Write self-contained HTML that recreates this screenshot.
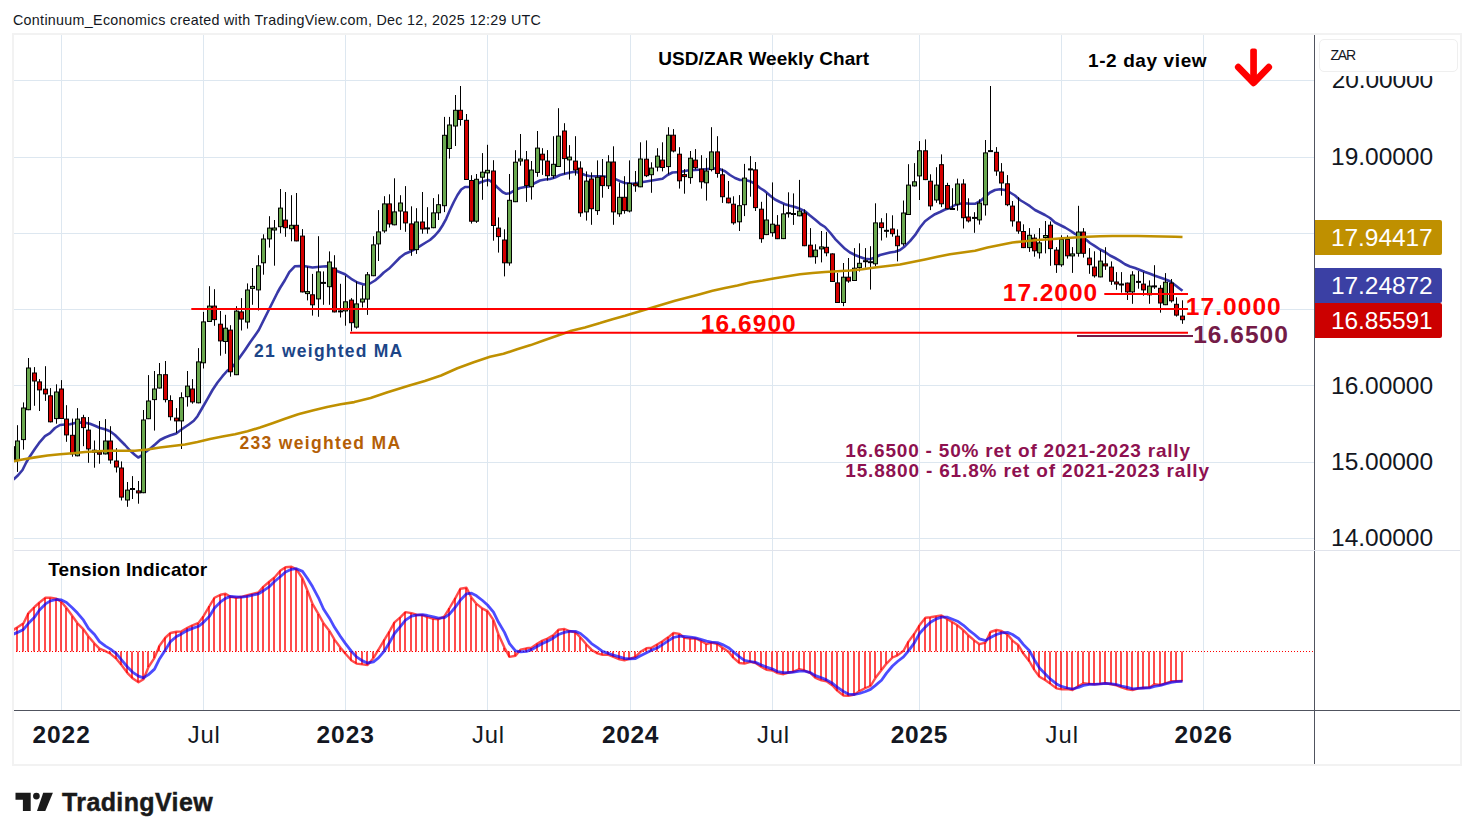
<!DOCTYPE html>
<html><head><meta charset="utf-8"><title>USD/ZAR Weekly Chart</title>
<style>
html,body{margin:0;padding:0;background:#fff;}
body{width:1474px;height:840px;position:relative;overflow:hidden;font-family:"Liberation Sans",sans-serif;color:#131722;}
svg{position:absolute;left:0;top:0;}
.t{position:absolute;white-space:nowrap;line-height:1;transform-origin:0 0;}
.b{font-weight:bold;}
.ax{font-size:24px;color:#131722;left:1332px;}
.axw{color:#fff;}
.tm{font-size:24px;color:#131722;}
</style></head><body>
<svg width="1474" height="840" viewBox="0 0 1474 840">
<rect x="13" y="34" width="1448" height="731" fill="#fff" stroke="#f2f2f2" stroke-width="2"/>
<line x1="61.5" y1="35" x2="61.5" y2="710" stroke="#dde7f0" stroke-width="1"/>
<line x1="203.5" y1="35" x2="203.5" y2="710" stroke="#dde7f0" stroke-width="1"/>
<line x1="345.5" y1="35" x2="345.5" y2="710" stroke="#dde7f0" stroke-width="1"/>
<line x1="487.5" y1="35" x2="487.5" y2="710" stroke="#dde7f0" stroke-width="1"/>
<line x1="630.5" y1="35" x2="630.5" y2="710" stroke="#dde7f0" stroke-width="1"/>
<line x1="772.5" y1="35" x2="772.5" y2="710" stroke="#dde7f0" stroke-width="1"/>
<line x1="919.5" y1="35" x2="919.5" y2="710" stroke="#dde7f0" stroke-width="1"/>
<line x1="1061.5" y1="35" x2="1061.5" y2="710" stroke="#dde7f0" stroke-width="1"/>
<line x1="1203.5" y1="35" x2="1203.5" y2="710" stroke="#dde7f0" stroke-width="1"/>
<line x1="14" y1="538.5" x2="1314" y2="538.5" stroke="#dde7f0" stroke-width="1"/>
<line x1="14" y1="462.5" x2="1314" y2="462.5" stroke="#dde7f0" stroke-width="1"/>
<line x1="14" y1="385.5" x2="1314" y2="385.5" stroke="#dde7f0" stroke-width="1"/>
<line x1="14" y1="309.5" x2="1314" y2="309.5" stroke="#dde7f0" stroke-width="1"/>
<line x1="14" y1="233.5" x2="1314" y2="233.5" stroke="#dde7f0" stroke-width="1"/>
<line x1="14" y1="157.5" x2="1314" y2="157.5" stroke="#dde7f0" stroke-width="1"/>
<line x1="14" y1="80.5" x2="1314" y2="80.5" stroke="#dde7f0" stroke-width="1"/>
<defs><clipPath id="cp"><rect x="14" y="35" width="1300" height="675"/></clipPath></defs>
<g clip-path="url(#cp)">
<path d="M12.5,480.0 L13.8,479.2 L17.5,475.8 L22.5,470.0 L26.2,462.5 L30.0,456.2 L35.0,448.8 L40.0,441.8 L45.0,436.2 L50.0,433.2 L55.0,428.0 L60.0,425.0 L65.0,424.5 L70.0,424.2 L75.0,423.0 L80.0,422.5 L85.0,422.8 L90.0,423.8 L95.0,425.8 L100.0,428.0 L105.0,429.2 L110.0,431.2 L115.0,435.0 L120.0,440.0 L125.0,445.0 L130.0,450.5 L135.0,455.0 L138.2,457.5 L141.2,455.8 L145.0,452.5 L150.0,448.8 L155.0,444.5 L160.0,440.0 L165.0,437.5 L170.0,435.5 L176.2,433.5 L182.5,428.8 L188.8,424.5 L193.8,420.8 L197.5,416.2 L202.5,407.5 L207.5,398.8 L212.5,390.0 L217.5,382.5 L222.5,376.2 L227.5,370.5 L231.2,368.0 L235.0,363.8 L240.0,357.0 L245.0,350.0 L250.0,342.5 L255.0,335.5 L258.8,330.0 L262.5,322.5 L267.5,312.5 L272.5,302.5 L277.5,292.5 L280.0,288.0 L285.0,280.0 L289.3,272.1 L295.0,266.2 L300.0,266.0 L305.0,266.2 L312.5,267.5 L320.0,266.8 L326.2,266.2 L331.2,268.0 L337.5,271.2 L345.0,274.2 L351.2,278.8 L357.5,282.5 L363.8,284.5 L370.0,283.5 L375.0,280.5 L380.0,276.2 L383.8,272.5 L388.8,268.8 L393.8,263.8 L400.0,257.5 L405.0,253.8 L410.0,251.8 L415.0,249.2 L420.0,246.2 L425.0,243.0 L430.0,240.0 L435.0,235.5 L438.8,231.2 L442.5,225.5 L446.2,218.8 L450.0,210.0 L453.8,202.0 L457.5,195.0 L461.2,189.5 L465.0,187.0 L470.0,187.0 L475.0,185.0 L480.0,182.5 L485.0,180.8 L488.8,180.0 L492.5,182.5 L497.5,187.5 L502.5,192.0 L506.2,193.8 L510.0,193.2 L515.0,190.0 L520.0,188.0 L525.0,187.0 L530.0,186.2 L535.0,183.0 L540.0,180.5 L545.0,179.5 L550.0,179.0 L555.0,177.5 L560.0,175.0 L565.0,173.8 L570.0,172.5 L575.0,171.8 L580.0,173.0 L585.0,175.0 L590.0,176.2 L595.0,176.2 L600.0,176.2 L607.5,176.8 L615.0,178.8 L620.0,181.2 L625.0,183.0 L632.5,183.8 L640.0,182.5 L647.5,181.2 L655.0,180.0 L662.5,178.8 L667.5,175.0 L672.5,172.5 L680.0,172.0 L687.5,170.5 L695.0,170.0 L702.5,169.5 L710.0,168.8 L717.5,168.2 L725.0,171.2 L730.0,175.0 L735.0,178.0 L740.0,180.0 L745.0,180.0 L750.0,181.2 L755.0,183.8 L760.0,188.0 L765.0,191.2 L770.0,195.5 L775.0,199.5 L780.0,202.0 L785.0,204.2 L790.0,205.8 L795.0,207.0 L800.0,208.8 L805.0,211.2 L810.0,215.5 L815.0,219.5 L820.0,223.8 L825.0,227.0 L830.0,232.5 L835.0,238.8 L840.0,243.8 L845.0,248.8 L850.0,252.5 L855.0,255.0 L860.0,257.0 L865.0,258.8 L870.0,259.2 L875.0,257.5 L880.0,255.0 L885.0,253.8 L890.0,252.5 L895.0,251.8 L900.0,250.0 L905.0,246.2 L910.0,241.2 L915.0,235.2 L920.0,227.5 L925.0,221.2 L930.0,217.5 L935.0,214.2 L940.0,212.0 L945.0,209.5 L950.0,208.0 L955.0,205.0 L960.0,203.8 L965.0,203.2 L970.0,203.8 L975.0,203.8 L980.0,201.2 L985.0,197.0 L990.0,192.5 L995.0,190.0 L1000.0,189.2 L1005.0,190.0 L1010.0,192.5 L1015.0,195.5 L1020.0,200.0 L1025.0,203.0 L1030.0,206.2 L1035.0,210.0 L1040.0,212.5 L1045.0,215.0 L1050.0,218.0 L1055.0,222.5 L1060.0,225.0 L1065.0,227.5 L1070.0,230.5 L1075.0,233.8 L1080.0,236.2 L1085.0,238.8 L1090.0,243.0 L1095.0,246.2 L1100.0,249.5 L1105.0,252.0 L1110.0,255.5 L1115.0,258.0 L1120.0,260.8 L1125.0,264.2 L1130.0,266.5 L1135.0,268.0 L1140.0,270.0 L1145.0,272.0 L1150.0,273.8 L1155.0,275.8 L1160.0,277.5 L1165.0,279.2 L1170.0,281.2 L1175.0,285.0 L1178.8,288.0 L1182.5,290.8" fill="none" stroke="#3838a8" stroke-width="2.6" stroke-linejoin="round" stroke-linecap="butt"/>
<g><line x1="12.5" y1="446.2" x2="12.5" y2="460.5" stroke="#000" stroke-width="1"/><rect x="10.5" y="446.7" width="4" height="13.3" fill="#d40000" stroke="#000" stroke-width="1"/><line x1="17.5" y1="425.2" x2="17.5" y2="471.9" stroke="#000" stroke-width="1"/><rect x="15.5" y="441.0" width="4" height="19.0" fill="#6aa84f" stroke="#000" stroke-width="1"/><line x1="23.5" y1="402.4" x2="23.5" y2="449.6" stroke="#000" stroke-width="1"/><rect x="21.5" y="408.0" width="4" height="31.6" fill="#6aa84f" stroke="#000" stroke-width="1"/><line x1="28.5" y1="358.0" x2="28.5" y2="410.2" stroke="#000" stroke-width="1"/><rect x="26.5" y="368.0" width="4" height="41.7" fill="#6aa84f" stroke="#000" stroke-width="1"/><line x1="34.5" y1="367.1" x2="34.5" y2="405.8" stroke="#000" stroke-width="1"/><rect x="32.5" y="373.0" width="4" height="8.0" fill="#d40000" stroke="#000" stroke-width="1"/><line x1="39.5" y1="379.1" x2="39.5" y2="411.0" stroke="#000" stroke-width="1"/><rect x="37.5" y="381.9" width="4" height="8.0" fill="#d40000" stroke="#000" stroke-width="1"/><line x1="45.5" y1="366.2" x2="45.5" y2="400.9" stroke="#000" stroke-width="1"/><rect x="43.5" y="389.2" width="4" height="4.7" fill="#d40000" stroke="#000" stroke-width="1"/><line x1="50.5" y1="388.1" x2="50.5" y2="422.4" stroke="#000" stroke-width="1"/><rect x="48.5" y="395.8" width="4" height="26.0" fill="#d40000" stroke="#000" stroke-width="1"/><line x1="56.5" y1="384.3" x2="56.5" y2="423.7" stroke="#000" stroke-width="1"/><rect x="54.5" y="392.0" width="4" height="26.6" fill="#6aa84f" stroke="#000" stroke-width="1"/><line x1="61.5" y1="380.1" x2="61.5" y2="419.0" stroke="#000" stroke-width="1"/><rect x="59.5" y="389.0" width="4" height="29.5" fill="#d40000" stroke="#000" stroke-width="1"/><line x1="66.5" y1="405.2" x2="66.5" y2="441.8" stroke="#000" stroke-width="1"/><rect x="64.5" y="419.1" width="4" height="15.8" fill="#d40000" stroke="#000" stroke-width="1"/><line x1="72.5" y1="418.6" x2="72.5" y2="456.7" stroke="#000" stroke-width="1"/><rect x="70.5" y="435.3" width="4" height="18.6" fill="#d40000" stroke="#000" stroke-width="1"/><line x1="77.5" y1="408.1" x2="77.5" y2="456.3" stroke="#000" stroke-width="1"/><rect x="75.5" y="419.1" width="4" height="36.7" fill="#6aa84f" stroke="#000" stroke-width="1"/><line x1="83.5" y1="414.8" x2="83.5" y2="446.2" stroke="#000" stroke-width="1"/><rect x="81.5" y="417.7" width="4" height="9.9" fill="#d40000" stroke="#000" stroke-width="1"/><line x1="88.5" y1="417.0" x2="88.5" y2="462.8" stroke="#000" stroke-width="1"/><rect x="86.5" y="430.1" width="4" height="18.8" fill="#d40000" stroke="#000" stroke-width="1"/><line x1="94.5" y1="440.5" x2="94.5" y2="467.7" stroke="#000" stroke-width="1"/><rect x="92.5" y="450.2" width="4" height="2.0" fill="#6aa84f" stroke="#000" stroke-width="1"/><line x1="99.5" y1="421.0" x2="99.5" y2="463.7" stroke="#000" stroke-width="1"/><rect x="97.5" y="452.2" width="4" height="2.0" fill="#d40000" stroke="#000" stroke-width="1"/><line x1="105.5" y1="419.1" x2="105.5" y2="454.4" stroke="#000" stroke-width="1"/><rect x="103.5" y="441.0" width="4" height="12.9" fill="#6aa84f" stroke="#000" stroke-width="1"/><line x1="110.5" y1="426.2" x2="110.5" y2="463.7" stroke="#000" stroke-width="1"/><rect x="108.5" y="441.0" width="4" height="19.0" fill="#d40000" stroke="#000" stroke-width="1"/><line x1="116.5" y1="448.1" x2="116.5" y2="472.5" stroke="#000" stroke-width="1"/><rect x="114.5" y="461.0" width="4" height="6.0" fill="#d40000" stroke="#000" stroke-width="1"/><line x1="121.5" y1="461.4" x2="121.5" y2="500.5" stroke="#000" stroke-width="1"/><rect x="119.5" y="468.0" width="4" height="29.1" fill="#d40000" stroke="#000" stroke-width="1"/><line x1="127.5" y1="482.0" x2="127.5" y2="506.8" stroke="#000" stroke-width="1"/><rect x="125.5" y="490.1" width="4" height="9.9" fill="#6aa84f" stroke="#000" stroke-width="1"/><line x1="132.5" y1="476.1" x2="132.5" y2="499.0" stroke="#000" stroke-width="1"/><rect x="130.0" y="488.0" width="5" height="2" fill="#000"/><line x1="138.5" y1="481.0" x2="138.5" y2="503.7" stroke="#000" stroke-width="1"/><rect x="136.5" y="490.9" width="4" height="2.0" fill="#d40000" stroke="#000" stroke-width="1"/><line x1="143.5" y1="410.0" x2="143.5" y2="493.2" stroke="#000" stroke-width="1"/><rect x="141.5" y="420.0" width="4" height="72.7" fill="#6aa84f" stroke="#000" stroke-width="1"/><line x1="148.5" y1="375.1" x2="148.5" y2="419.1" stroke="#000" stroke-width="1"/><rect x="146.5" y="401.0" width="4" height="17.7" fill="#6aa84f" stroke="#000" stroke-width="1"/><line x1="154.5" y1="371.0" x2="154.5" y2="430.6" stroke="#000" stroke-width="1"/><rect x="152.5" y="389.0" width="4" height="10.6" fill="#6aa84f" stroke="#000" stroke-width="1"/><line x1="159.5" y1="363.0" x2="159.5" y2="388.5" stroke="#000" stroke-width="1"/><rect x="157.5" y="374.7" width="4" height="13.3" fill="#6aa84f" stroke="#000" stroke-width="1"/><line x1="165.5" y1="361.0" x2="165.5" y2="402.4" stroke="#000" stroke-width="1"/><rect x="163.5" y="374.7" width="4" height="24.9" fill="#d40000" stroke="#000" stroke-width="1"/><line x1="170.5" y1="395.3" x2="170.5" y2="420.5" stroke="#000" stroke-width="1"/><rect x="168.5" y="400.6" width="4" height="16.1" fill="#d40000" stroke="#000" stroke-width="1"/><line x1="176.5" y1="408.1" x2="176.5" y2="432.9" stroke="#000" stroke-width="1"/><rect x="174.5" y="418.1" width="4" height="2.8" fill="#d40000" stroke="#000" stroke-width="1"/><line x1="181.5" y1="392.3" x2="181.5" y2="449.0" stroke="#000" stroke-width="1"/><rect x="179.5" y="397.7" width="4" height="23.2" fill="#6aa84f" stroke="#000" stroke-width="1"/><line x1="187.5" y1="371.0" x2="187.5" y2="406.6" stroke="#000" stroke-width="1"/><rect x="185.5" y="386.1" width="4" height="10.6" fill="#6aa84f" stroke="#000" stroke-width="1"/><line x1="192.5" y1="379.1" x2="192.5" y2="403.7" stroke="#000" stroke-width="1"/><rect x="190.5" y="389.0" width="4" height="12.9" fill="#d40000" stroke="#000" stroke-width="1"/><line x1="198.5" y1="348.1" x2="198.5" y2="403.3" stroke="#000" stroke-width="1"/><rect x="196.5" y="361.9" width="4" height="40.9" fill="#6aa84f" stroke="#000" stroke-width="1"/><line x1="203.5" y1="311.9" x2="203.5" y2="368.5" stroke="#000" stroke-width="1"/><rect x="201.5" y="321.9" width="4" height="40.9" fill="#6aa84f" stroke="#000" stroke-width="1"/><line x1="209.5" y1="286.2" x2="209.5" y2="322.0" stroke="#000" stroke-width="1"/><rect x="207.5" y="306.1" width="4" height="15.4" fill="#6aa84f" stroke="#000" stroke-width="1"/><line x1="214.5" y1="289.2" x2="214.5" y2="325.8" stroke="#000" stroke-width="1"/><rect x="212.5" y="306.1" width="4" height="13.5" fill="#d40000" stroke="#000" stroke-width="1"/><line x1="220.5" y1="311.0" x2="220.5" y2="355.7" stroke="#000" stroke-width="1"/><rect x="218.5" y="324.2" width="4" height="16.7" fill="#d40000" stroke="#000" stroke-width="1"/><line x1="225.5" y1="314.8" x2="225.5" y2="353.8" stroke="#000" stroke-width="1"/><rect x="223.5" y="328.2" width="4" height="13.3" fill="#6aa84f" stroke="#000" stroke-width="1"/><line x1="230.5" y1="325.2" x2="230.5" y2="376.7" stroke="#000" stroke-width="1"/><rect x="228.5" y="330.1" width="4" height="41.7" fill="#d40000" stroke="#000" stroke-width="1"/><line x1="236.5" y1="306.2" x2="236.5" y2="375.1" stroke="#000" stroke-width="1"/><rect x="234.5" y="311.1" width="4" height="63.6" fill="#6aa84f" stroke="#000" stroke-width="1"/><line x1="241.5" y1="298.1" x2="241.5" y2="330.5" stroke="#000" stroke-width="1"/><rect x="239.5" y="311.9" width="4" height="7.2" fill="#d40000" stroke="#000" stroke-width="1"/><line x1="247.5" y1="283.4" x2="247.5" y2="328.6" stroke="#000" stroke-width="1"/><rect x="245.5" y="290.0" width="4" height="32.0" fill="#6aa84f" stroke="#000" stroke-width="1"/><line x1="252.5" y1="268.0" x2="252.5" y2="304.8" stroke="#000" stroke-width="1"/><rect x="250.5" y="286.4" width="4" height="2.0" fill="#6aa84f" stroke="#000" stroke-width="1"/><line x1="258.5" y1="255.2" x2="258.5" y2="310.5" stroke="#000" stroke-width="1"/><rect x="256.5" y="265.8" width="4" height="24.1" fill="#6aa84f" stroke="#000" stroke-width="1"/><line x1="263.5" y1="234.3" x2="263.5" y2="274.7" stroke="#000" stroke-width="1"/><rect x="261.5" y="239.0" width="4" height="23.8" fill="#6aa84f" stroke="#000" stroke-width="1"/><line x1="269.5" y1="216.2" x2="269.5" y2="247.6" stroke="#000" stroke-width="1"/><rect x="267.5" y="228.1" width="4" height="10.8" fill="#6aa84f" stroke="#000" stroke-width="1"/><line x1="274.5" y1="220.0" x2="274.5" y2="265.7" stroke="#000" stroke-width="1"/><rect x="272.5" y="228.0" width="4" height="2.0" fill="#6aa84f" stroke="#000" stroke-width="1"/><line x1="280.5" y1="189.0" x2="280.5" y2="233.3" stroke="#000" stroke-width="1"/><rect x="278.5" y="208.1" width="4" height="18.6" fill="#6aa84f" stroke="#000" stroke-width="1"/><line x1="285.5" y1="192.0" x2="285.5" y2="236.8" stroke="#000" stroke-width="1"/><rect x="283.5" y="220.1" width="4" height="7.6" fill="#d40000" stroke="#000" stroke-width="1"/><line x1="291.5" y1="195.2" x2="291.5" y2="241.3" stroke="#000" stroke-width="1"/><rect x="289.5" y="225.3" width="4" height="3.4" fill="#6aa84f" stroke="#000" stroke-width="1"/><line x1="296.5" y1="193.0" x2="296.5" y2="241.3" stroke="#000" stroke-width="1"/><rect x="294.5" y="225.3" width="4" height="15.6" fill="#d40000" stroke="#000" stroke-width="1"/><line x1="302.5" y1="229.1" x2="302.5" y2="292.4" stroke="#000" stroke-width="1"/><rect x="300.5" y="236.1" width="4" height="55.8" fill="#d40000" stroke="#000" stroke-width="1"/><line x1="307.5" y1="266.7" x2="307.5" y2="300.4" stroke="#000" stroke-width="1"/><rect x="305.5" y="291.6" width="4" height="2.0" fill="#6aa84f" stroke="#000" stroke-width="1"/><line x1="312.5" y1="273.9" x2="312.5" y2="315.6" stroke="#000" stroke-width="1"/><rect x="310.5" y="294.8" width="4" height="10.0" fill="#d40000" stroke="#000" stroke-width="1"/><line x1="318.5" y1="236.2" x2="318.5" y2="316.8" stroke="#000" stroke-width="1"/><rect x="316.5" y="271.9" width="4" height="27.0" fill="#6aa84f" stroke="#000" stroke-width="1"/><line x1="323.5" y1="271.4" x2="323.5" y2="304.8" stroke="#000" stroke-width="1"/><rect x="321.0" y="281.9" width="5" height="2" fill="#000"/><line x1="329.5" y1="251.4" x2="329.5" y2="304.8" stroke="#000" stroke-width="1"/><rect x="327.5" y="262.0" width="4" height="24.7" fill="#6aa84f" stroke="#000" stroke-width="1"/><line x1="334.5" y1="255.2" x2="334.5" y2="312.4" stroke="#000" stroke-width="1"/><rect x="332.5" y="268.1" width="4" height="43.8" fill="#d40000" stroke="#000" stroke-width="1"/><line x1="340.5" y1="283.8" x2="340.5" y2="317.5" stroke="#000" stroke-width="1"/><rect x="338.0" y="310.4" width="5" height="2" fill="#000"/><line x1="345.5" y1="275.8" x2="345.5" y2="325.7" stroke="#000" stroke-width="1"/><rect x="343.5" y="301.8" width="4" height="9.1" fill="#6aa84f" stroke="#000" stroke-width="1"/><line x1="351.5" y1="298.1" x2="351.5" y2="331.4" stroke="#000" stroke-width="1"/><rect x="349.5" y="300.1" width="4" height="22.6" fill="#d40000" stroke="#000" stroke-width="1"/><line x1="356.5" y1="281.5" x2="356.5" y2="328.6" stroke="#000" stroke-width="1"/><rect x="354.5" y="303.9" width="4" height="23.2" fill="#6aa84f" stroke="#000" stroke-width="1"/><line x1="362.5" y1="285.3" x2="362.5" y2="307.6" stroke="#000" stroke-width="1"/><rect x="360.5" y="299.0" width="4" height="3.0" fill="#6aa84f" stroke="#000" stroke-width="1"/><line x1="367.5" y1="272.0" x2="367.5" y2="314.9" stroke="#000" stroke-width="1"/><rect x="365.5" y="274.8" width="4" height="24.3" fill="#6aa84f" stroke="#000" stroke-width="1"/><line x1="373.5" y1="236.2" x2="373.5" y2="276.2" stroke="#000" stroke-width="1"/><rect x="371.5" y="244.9" width="4" height="30.8" fill="#6aa84f" stroke="#000" stroke-width="1"/><line x1="378.5" y1="210.1" x2="378.5" y2="261.0" stroke="#000" stroke-width="1"/><rect x="376.5" y="231.9" width="4" height="12.0" fill="#6aa84f" stroke="#000" stroke-width="1"/><line x1="384.5" y1="196.2" x2="384.5" y2="232.8" stroke="#000" stroke-width="1"/><rect x="382.5" y="203.9" width="4" height="27.0" fill="#6aa84f" stroke="#000" stroke-width="1"/><line x1="389.5" y1="194.3" x2="389.5" y2="227.6" stroke="#000" stroke-width="1"/><rect x="387.5" y="203.9" width="4" height="20.0" fill="#d40000" stroke="#000" stroke-width="1"/><line x1="394.5" y1="178.3" x2="394.5" y2="225.3" stroke="#000" stroke-width="1"/><rect x="392.5" y="211.9" width="4" height="12.9" fill="#6aa84f" stroke="#000" stroke-width="1"/><line x1="400.5" y1="195.2" x2="400.5" y2="229.9" stroke="#000" stroke-width="1"/><rect x="398.5" y="203.0" width="4" height="8.0" fill="#6aa84f" stroke="#000" stroke-width="1"/><line x1="405.5" y1="186.1" x2="405.5" y2="231.8" stroke="#000" stroke-width="1"/><rect x="403.5" y="211.9" width="4" height="11.0" fill="#d40000" stroke="#000" stroke-width="1"/><line x1="411.5" y1="206.3" x2="411.5" y2="255.8" stroke="#000" stroke-width="1"/><rect x="409.5" y="223.9" width="4" height="26.0" fill="#d40000" stroke="#000" stroke-width="1"/><line x1="416.5" y1="208.2" x2="416.5" y2="253.9" stroke="#000" stroke-width="1"/><rect x="414.5" y="222.0" width="4" height="27.6" fill="#6aa84f" stroke="#000" stroke-width="1"/><line x1="422.5" y1="192.0" x2="422.5" y2="233.7" stroke="#000" stroke-width="1"/><rect x="420.5" y="222.0" width="4" height="7.0" fill="#d40000" stroke="#000" stroke-width="1"/><line x1="427.5" y1="207.2" x2="427.5" y2="233.7" stroke="#000" stroke-width="1"/><rect x="425.0" y="227.4" width="5" height="2" fill="#000"/><line x1="433.5" y1="198.1" x2="433.5" y2="228.2" stroke="#000" stroke-width="1"/><rect x="431.5" y="212.9" width="4" height="14.8" fill="#6aa84f" stroke="#000" stroke-width="1"/><line x1="438.5" y1="194.3" x2="438.5" y2="220.0" stroke="#000" stroke-width="1"/><rect x="436.5" y="204.7" width="4" height="8.1" fill="#6aa84f" stroke="#000" stroke-width="1"/><line x1="444.5" y1="116.9" x2="444.5" y2="212.1" stroke="#000" stroke-width="1"/><rect x="442.5" y="135.3" width="4" height="70.4" fill="#6aa84f" stroke="#000" stroke-width="1"/><line x1="449.5" y1="116.9" x2="449.5" y2="158.6" stroke="#000" stroke-width="1"/><rect x="447.5" y="125.0" width="4" height="23.5" fill="#6aa84f" stroke="#000" stroke-width="1"/><line x1="455.5" y1="95.0" x2="455.5" y2="146.0" stroke="#000" stroke-width="1"/><rect x="453.5" y="110.3" width="4" height="15.7" fill="#6aa84f" stroke="#000" stroke-width="1"/><line x1="460.5" y1="86.0" x2="460.5" y2="125.7" stroke="#000" stroke-width="1"/><rect x="458.5" y="110.3" width="4" height="9.2" fill="#d40000" stroke="#000" stroke-width="1"/><line x1="466.5" y1="114.0" x2="466.5" y2="180.0" stroke="#000" stroke-width="1"/><rect x="464.5" y="120.3" width="4" height="59.2" fill="#d40000" stroke="#000" stroke-width="1"/><line x1="471.5" y1="175.2" x2="471.5" y2="223.6" stroke="#000" stroke-width="1"/><rect x="469.5" y="180.5" width="4" height="40.7" fill="#d40000" stroke="#000" stroke-width="1"/><line x1="476.5" y1="174.0" x2="476.5" y2="222.9" stroke="#000" stroke-width="1"/><rect x="474.5" y="179.3" width="4" height="41.9" fill="#6aa84f" stroke="#000" stroke-width="1"/><line x1="482.5" y1="153.1" x2="482.5" y2="199.8" stroke="#000" stroke-width="1"/><rect x="480.5" y="172.2" width="4" height="5.0" fill="#6aa84f" stroke="#000" stroke-width="1"/><line x1="487.5" y1="144.8" x2="487.5" y2="186.4" stroke="#000" stroke-width="1"/><rect x="485.5" y="170.3" width="4" height="2.6" fill="#6aa84f" stroke="#000" stroke-width="1"/><line x1="493.5" y1="160.2" x2="493.5" y2="240.7" stroke="#000" stroke-width="1"/><rect x="491.5" y="171.0" width="4" height="54.5" fill="#d40000" stroke="#000" stroke-width="1"/><line x1="498.5" y1="217.4" x2="498.5" y2="252.6" stroke="#000" stroke-width="1"/><rect x="496.5" y="228.1" width="4" height="8.5" fill="#d40000" stroke="#000" stroke-width="1"/><line x1="504.5" y1="229.3" x2="504.5" y2="276.4" stroke="#000" stroke-width="1"/><rect x="502.5" y="240.0" width="4" height="22.8" fill="#d40000" stroke="#000" stroke-width="1"/><line x1="509.5" y1="174.0" x2="509.5" y2="265.7" stroke="#000" stroke-width="1"/><rect x="507.5" y="200.3" width="4" height="62.6" fill="#6aa84f" stroke="#000" stroke-width="1"/><line x1="515.5" y1="150.2" x2="515.5" y2="202.1" stroke="#000" stroke-width="1"/><rect x="513.5" y="162.2" width="4" height="39.5" fill="#6aa84f" stroke="#000" stroke-width="1"/><line x1="520.5" y1="134.0" x2="520.5" y2="165.7" stroke="#000" stroke-width="1"/><rect x="518.5" y="159.0" width="4" height="2.0" fill="#6aa84f" stroke="#000" stroke-width="1"/><line x1="526.5" y1="151.0" x2="526.5" y2="201.9" stroke="#000" stroke-width="1"/><rect x="524.5" y="159.9" width="4" height="25.7" fill="#d40000" stroke="#000" stroke-width="1"/><line x1="531.5" y1="161.0" x2="531.5" y2="199.6" stroke="#000" stroke-width="1"/><rect x="529.5" y="170.0" width="4" height="16.7" fill="#6aa84f" stroke="#000" stroke-width="1"/><line x1="537.5" y1="131.0" x2="537.5" y2="176.8" stroke="#000" stroke-width="1"/><rect x="535.5" y="148.1" width="4" height="24.3" fill="#6aa84f" stroke="#000" stroke-width="1"/><line x1="542.5" y1="148.2" x2="542.5" y2="174.9" stroke="#000" stroke-width="1"/><rect x="540.5" y="154.2" width="4" height="5.7" fill="#d40000" stroke="#000" stroke-width="1"/><line x1="547.5" y1="150.1" x2="547.5" y2="180.6" stroke="#000" stroke-width="1"/><rect x="545.5" y="161.1" width="4" height="14.6" fill="#d40000" stroke="#000" stroke-width="1"/><line x1="553.5" y1="136.2" x2="553.5" y2="178.5" stroke="#000" stroke-width="1"/><rect x="551.5" y="164.3" width="4" height="11.4" fill="#6aa84f" stroke="#000" stroke-width="1"/><line x1="558.5" y1="108.2" x2="558.5" y2="167.0" stroke="#000" stroke-width="1"/><rect x="556.5" y="136.1" width="4" height="30.4" fill="#6aa84f" stroke="#000" stroke-width="1"/><line x1="564.5" y1="123.2" x2="564.5" y2="174.3" stroke="#000" stroke-width="1"/><rect x="562.5" y="131.0" width="4" height="27.6" fill="#d40000" stroke="#000" stroke-width="1"/><line x1="569.5" y1="145.1" x2="569.5" y2="179.6" stroke="#000" stroke-width="1"/><rect x="567.5" y="157.1" width="4" height="2.8" fill="#6aa84f" stroke="#000" stroke-width="1"/><line x1="575.5" y1="136.2" x2="575.5" y2="175.6" stroke="#000" stroke-width="1"/><rect x="573.5" y="161.1" width="4" height="8.9" fill="#d40000" stroke="#000" stroke-width="1"/><line x1="580.5" y1="161.3" x2="580.5" y2="216.8" stroke="#000" stroke-width="1"/><rect x="578.5" y="168.1" width="4" height="44.7" fill="#d40000" stroke="#000" stroke-width="1"/><line x1="586.5" y1="171.4" x2="586.5" y2="220.6" stroke="#000" stroke-width="1"/><rect x="584.5" y="181.1" width="4" height="30.8" fill="#6aa84f" stroke="#000" stroke-width="1"/><line x1="591.5" y1="172.4" x2="591.5" y2="224.8" stroke="#000" stroke-width="1"/><rect x="589.5" y="179.0" width="4" height="29.7" fill="#d40000" stroke="#000" stroke-width="1"/><line x1="597.5" y1="160.4" x2="597.5" y2="214.9" stroke="#000" stroke-width="1"/><rect x="595.5" y="177.3" width="4" height="33.3" fill="#6aa84f" stroke="#000" stroke-width="1"/><line x1="602.5" y1="159.0" x2="602.5" y2="197.7" stroke="#000" stroke-width="1"/><rect x="600.5" y="176.3" width="4" height="9.3" fill="#d40000" stroke="#000" stroke-width="1"/><line x1="608.5" y1="155.2" x2="608.5" y2="189.0" stroke="#000" stroke-width="1"/><rect x="606.5" y="162.0" width="4" height="23.8" fill="#6aa84f" stroke="#000" stroke-width="1"/><line x1="613.5" y1="146.3" x2="613.5" y2="224.8" stroke="#000" stroke-width="1"/><rect x="611.5" y="162.0" width="4" height="49.9" fill="#d40000" stroke="#000" stroke-width="1"/><line x1="619.5" y1="182.5" x2="619.5" y2="216.8" stroke="#000" stroke-width="1"/><rect x="617.5" y="197.3" width="4" height="16.5" fill="#6aa84f" stroke="#000" stroke-width="1"/><line x1="624.5" y1="176.2" x2="624.5" y2="213.7" stroke="#000" stroke-width="1"/><rect x="622.5" y="197.3" width="4" height="13.3" fill="#d40000" stroke="#000" stroke-width="1"/><line x1="629.5" y1="160.4" x2="629.5" y2="212.4" stroke="#000" stroke-width="1"/><rect x="627.5" y="183.4" width="4" height="27.6" fill="#6aa84f" stroke="#000" stroke-width="1"/><line x1="635.5" y1="171.0" x2="635.5" y2="191.8" stroke="#000" stroke-width="1"/><rect x="633.5" y="183.8" width="4" height="2.0" fill="#d40000" stroke="#000" stroke-width="1"/><line x1="640.5" y1="142.3" x2="640.5" y2="187.2" stroke="#000" stroke-width="1"/><rect x="638.5" y="159.0" width="4" height="27.8" fill="#6aa84f" stroke="#000" stroke-width="1"/><line x1="646.5" y1="140.4" x2="646.5" y2="177.1" stroke="#000" stroke-width="1"/><rect x="644.5" y="159.2" width="4" height="16.5" fill="#d40000" stroke="#000" stroke-width="1"/><line x1="651.5" y1="162.3" x2="651.5" y2="192.8" stroke="#000" stroke-width="1"/><rect x="649.5" y="168.1" width="4" height="6.6" fill="#6aa84f" stroke="#000" stroke-width="1"/><line x1="657.5" y1="148.2" x2="657.5" y2="171.4" stroke="#000" stroke-width="1"/><rect x="655.5" y="156.1" width="4" height="11.0" fill="#6aa84f" stroke="#000" stroke-width="1"/><line x1="662.5" y1="142.3" x2="662.5" y2="171.4" stroke="#000" stroke-width="1"/><rect x="660.5" y="160.1" width="4" height="7.4" fill="#d40000" stroke="#000" stroke-width="1"/><line x1="668.5" y1="127.2" x2="668.5" y2="174.3" stroke="#000" stroke-width="1"/><rect x="666.5" y="135.2" width="4" height="31.4" fill="#6aa84f" stroke="#000" stroke-width="1"/><line x1="673.5" y1="129.1" x2="673.5" y2="152.4" stroke="#000" stroke-width="1"/><rect x="671.5" y="135.2" width="4" height="15.8" fill="#d40000" stroke="#000" stroke-width="1"/><line x1="679.5" y1="147.2" x2="679.5" y2="188.6" stroke="#000" stroke-width="1"/><rect x="677.5" y="154.2" width="4" height="26.6" fill="#d40000" stroke="#000" stroke-width="1"/><line x1="684.5" y1="169.1" x2="684.5" y2="193.7" stroke="#000" stroke-width="1"/><rect x="682.5" y="174.6" width="4" height="2.0" fill="#d40000" stroke="#000" stroke-width="1"/><line x1="690.5" y1="151.0" x2="690.5" y2="183.8" stroke="#000" stroke-width="1"/><rect x="688.5" y="158.2" width="4" height="19.4" fill="#6aa84f" stroke="#000" stroke-width="1"/><line x1="695.5" y1="149.1" x2="695.5" y2="169.5" stroke="#000" stroke-width="1"/><rect x="693.5" y="160.1" width="4" height="7.6" fill="#d40000" stroke="#000" stroke-width="1"/><line x1="701.5" y1="155.2" x2="701.5" y2="188.6" stroke="#000" stroke-width="1"/><rect x="699.5" y="169.1" width="4" height="12.7" fill="#d40000" stroke="#000" stroke-width="1"/><line x1="706.5" y1="158.1" x2="706.5" y2="200.6" stroke="#000" stroke-width="1"/><rect x="704.5" y="171.0" width="4" height="11.8" fill="#6aa84f" stroke="#000" stroke-width="1"/><line x1="711.5" y1="127.2" x2="711.5" y2="171.4" stroke="#000" stroke-width="1"/><rect x="709.5" y="151.9" width="4" height="17.7" fill="#6aa84f" stroke="#000" stroke-width="1"/><line x1="717.5" y1="136.2" x2="717.5" y2="177.7" stroke="#000" stroke-width="1"/><rect x="715.5" y="151.9" width="4" height="21.5" fill="#d40000" stroke="#000" stroke-width="1"/><line x1="722.5" y1="168.6" x2="722.5" y2="202.9" stroke="#000" stroke-width="1"/><rect x="720.5" y="174.8" width="4" height="21.9" fill="#d40000" stroke="#000" stroke-width="1"/><line x1="728.5" y1="181.0" x2="728.5" y2="203.3" stroke="#000" stroke-width="1"/><rect x="726.5" y="198.1" width="4" height="4.7" fill="#d40000" stroke="#000" stroke-width="1"/><line x1="733.5" y1="196.3" x2="733.5" y2="224.7" stroke="#000" stroke-width="1"/><rect x="731.5" y="204.2" width="4" height="18.6" fill="#d40000" stroke="#000" stroke-width="1"/><line x1="739.5" y1="195.1" x2="739.5" y2="231.0" stroke="#000" stroke-width="1"/><rect x="737.5" y="205.7" width="4" height="16.1" fill="#6aa84f" stroke="#000" stroke-width="1"/><line x1="744.5" y1="163.9" x2="744.5" y2="216.1" stroke="#000" stroke-width="1"/><rect x="742.5" y="178.1" width="4" height="26.6" fill="#6aa84f" stroke="#000" stroke-width="1"/><line x1="750.5" y1="156.1" x2="750.5" y2="196.7" stroke="#000" stroke-width="1"/><rect x="748.0" y="168.4" width="5" height="2" fill="#000"/><line x1="755.5" y1="162.0" x2="755.5" y2="211.0" stroke="#000" stroke-width="1"/><rect x="753.5" y="169.9" width="4" height="37.7" fill="#d40000" stroke="#000" stroke-width="1"/><line x1="761.5" y1="201.8" x2="761.5" y2="242.8" stroke="#000" stroke-width="1"/><rect x="759.5" y="209.2" width="4" height="29.5" fill="#d40000" stroke="#000" stroke-width="1"/><line x1="766.5" y1="193.4" x2="766.5" y2="235.1" stroke="#000" stroke-width="1"/><rect x="764.5" y="220.0" width="4" height="14.6" fill="#6aa84f" stroke="#000" stroke-width="1"/><line x1="772.5" y1="182.4" x2="772.5" y2="236.7" stroke="#000" stroke-width="1"/><rect x="770.5" y="224.2" width="4" height="8.5" fill="#6aa84f" stroke="#000" stroke-width="1"/><line x1="777.5" y1="215.1" x2="777.5" y2="239.1" stroke="#000" stroke-width="1"/><rect x="775.5" y="225.2" width="4" height="13.5" fill="#d40000" stroke="#000" stroke-width="1"/><line x1="783.5" y1="204.3" x2="783.5" y2="239.1" stroke="#000" stroke-width="1"/><rect x="781.5" y="213.9" width="4" height="24.7" fill="#6aa84f" stroke="#000" stroke-width="1"/><line x1="788.5" y1="192.3" x2="788.5" y2="217.6" stroke="#000" stroke-width="1"/><rect x="786.0" y="212.2" width="5" height="2" fill="#000"/><line x1="793.5" y1="193.4" x2="793.5" y2="224.9" stroke="#000" stroke-width="1"/><rect x="791.0" y="213.0" width="5" height="2" fill="#000"/><line x1="799.5" y1="179.9" x2="799.5" y2="216.3" stroke="#000" stroke-width="1"/><rect x="797.5" y="211.1" width="4" height="4.7" fill="#6aa84f" stroke="#000" stroke-width="1"/><line x1="804.5" y1="209.4" x2="804.5" y2="246.2" stroke="#000" stroke-width="1"/><rect x="802.5" y="213.0" width="4" height="32.7" fill="#d40000" stroke="#000" stroke-width="1"/><line x1="810.5" y1="228.1" x2="810.5" y2="257.2" stroke="#000" stroke-width="1"/><rect x="808.5" y="245.2" width="4" height="11.6" fill="#d40000" stroke="#000" stroke-width="1"/><line x1="815.5" y1="244.3" x2="815.5" y2="263.7" stroke="#000" stroke-width="1"/><rect x="813.5" y="250.1" width="4" height="6.6" fill="#6aa84f" stroke="#000" stroke-width="1"/><line x1="821.5" y1="231.0" x2="821.5" y2="262.4" stroke="#000" stroke-width="1"/><rect x="819.5" y="246.9" width="4" height="2.0" fill="#6aa84f" stroke="#000" stroke-width="1"/><line x1="826.5" y1="231.9" x2="826.5" y2="256.3" stroke="#000" stroke-width="1"/><rect x="824.5" y="247.3" width="4" height="5.5" fill="#d40000" stroke="#000" stroke-width="1"/><line x1="832.5" y1="253.4" x2="832.5" y2="282.0" stroke="#000" stroke-width="1"/><rect x="830.5" y="253.9" width="4" height="27.6" fill="#d40000" stroke="#000" stroke-width="1"/><line x1="837.5" y1="272.9" x2="837.5" y2="303.0" stroke="#000" stroke-width="1"/><rect x="835.5" y="282.9" width="4" height="19.6" fill="#d40000" stroke="#000" stroke-width="1"/><line x1="843.5" y1="263.0" x2="843.5" y2="306.2" stroke="#000" stroke-width="1"/><rect x="841.5" y="277.2" width="4" height="25.3" fill="#6aa84f" stroke="#000" stroke-width="1"/><line x1="848.5" y1="258.0" x2="848.5" y2="282.8" stroke="#000" stroke-width="1"/><rect x="846.5" y="277.2" width="4" height="3.8" fill="#d40000" stroke="#000" stroke-width="1"/><line x1="854.5" y1="248.1" x2="854.5" y2="281.0" stroke="#000" stroke-width="1"/><rect x="852.5" y="268.2" width="4" height="12.3" fill="#6aa84f" stroke="#000" stroke-width="1"/><line x1="859.5" y1="243.3" x2="859.5" y2="271.5" stroke="#000" stroke-width="1"/><rect x="857.5" y="263.3" width="4" height="4.3" fill="#6aa84f" stroke="#000" stroke-width="1"/><line x1="865.5" y1="248.1" x2="865.5" y2="267.7" stroke="#000" stroke-width="1"/><rect x="863.0" y="260.2" width="5" height="2" fill="#000"/><line x1="870.5" y1="246.2" x2="870.5" y2="289.6" stroke="#000" stroke-width="1"/><rect x="868.0" y="261.2" width="5" height="2" fill="#000"/><line x1="875.5" y1="203.3" x2="875.5" y2="266.2" stroke="#000" stroke-width="1"/><rect x="873.5" y="222.9" width="4" height="40.9" fill="#6aa84f" stroke="#000" stroke-width="1"/><line x1="881.5" y1="218.2" x2="881.5" y2="240.5" stroke="#000" stroke-width="1"/><rect x="879.5" y="222.9" width="4" height="4.7" fill="#d40000" stroke="#000" stroke-width="1"/><line x1="886.5" y1="213.2" x2="886.5" y2="237.6" stroke="#000" stroke-width="1"/><rect x="884.0" y="229.8" width="5" height="2" fill="#000"/><line x1="892.5" y1="215.3" x2="892.5" y2="236.7" stroke="#000" stroke-width="1"/><rect x="890.5" y="229.0" width="4" height="4.7" fill="#d40000" stroke="#000" stroke-width="1"/><line x1="897.5" y1="229.4" x2="897.5" y2="261.4" stroke="#000" stroke-width="1"/><rect x="895.5" y="236.2" width="4" height="9.5" fill="#d40000" stroke="#000" stroke-width="1"/><line x1="903.5" y1="200.5" x2="903.5" y2="245.8" stroke="#000" stroke-width="1"/><rect x="901.5" y="213.0" width="4" height="30.8" fill="#6aa84f" stroke="#000" stroke-width="1"/><line x1="908.5" y1="164.2" x2="908.5" y2="215.0" stroke="#000" stroke-width="1"/><rect x="906.5" y="185.1" width="4" height="29.4" fill="#6aa84f" stroke="#000" stroke-width="1"/><line x1="914.5" y1="163.1" x2="914.5" y2="186.5" stroke="#000" stroke-width="1"/><rect x="912.5" y="181.8" width="4" height="4.1" fill="#6aa84f" stroke="#000" stroke-width="1"/><line x1="919.5" y1="141.1" x2="919.5" y2="200.0" stroke="#000" stroke-width="1"/><rect x="917.5" y="150.8" width="4" height="25.1" fill="#6aa84f" stroke="#000" stroke-width="1"/><line x1="925.5" y1="139.4" x2="925.5" y2="180.1" stroke="#000" stroke-width="1"/><rect x="923.5" y="150.8" width="4" height="28.8" fill="#d40000" stroke="#000" stroke-width="1"/><line x1="930.5" y1="174.3" x2="930.5" y2="210.1" stroke="#000" stroke-width="1"/><rect x="928.5" y="181.2" width="4" height="24.7" fill="#d40000" stroke="#000" stroke-width="1"/><line x1="936.5" y1="167.2" x2="936.5" y2="202.8" stroke="#000" stroke-width="1"/><rect x="934.5" y="185.1" width="4" height="14.9" fill="#6aa84f" stroke="#000" stroke-width="1"/><line x1="941.5" y1="154.4" x2="941.5" y2="207.1" stroke="#000" stroke-width="1"/><rect x="939.5" y="164.7" width="4" height="39.1" fill="#d40000" stroke="#000" stroke-width="1"/><line x1="947.5" y1="182.8" x2="947.5" y2="209.2" stroke="#000" stroke-width="1"/><rect x="945.5" y="185.5" width="4" height="23.2" fill="#d40000" stroke="#000" stroke-width="1"/><line x1="952.5" y1="188.2" x2="952.5" y2="209.4" stroke="#000" stroke-width="1"/><rect x="950.0" y="208.0" width="5" height="2" fill="#000"/><line x1="957.5" y1="178.6" x2="957.5" y2="210.7" stroke="#000" stroke-width="1"/><rect x="955.5" y="184.0" width="4" height="20.2" fill="#6aa84f" stroke="#000" stroke-width="1"/><line x1="963.5" y1="179.2" x2="963.5" y2="228.5" stroke="#000" stroke-width="1"/><rect x="961.5" y="184.0" width="4" height="33.7" fill="#d40000" stroke="#000" stroke-width="1"/><line x1="968.5" y1="198.3" x2="968.5" y2="222.5" stroke="#000" stroke-width="1"/><rect x="966.5" y="217.0" width="4" height="3.9" fill="#d40000" stroke="#000" stroke-width="1"/><line x1="974.5" y1="212.2" x2="974.5" y2="232.8" stroke="#000" stroke-width="1"/><rect x="972.0" y="216.9" width="5" height="2" fill="#000"/><line x1="979.5" y1="199.3" x2="979.5" y2="224.6" stroke="#000" stroke-width="1"/><rect x="977.5" y="203.1" width="4" height="16.8" fill="#6aa84f" stroke="#000" stroke-width="1"/><line x1="985.5" y1="140.0" x2="985.5" y2="215.6" stroke="#000" stroke-width="1"/><rect x="983.5" y="152.9" width="4" height="51.9" fill="#6aa84f" stroke="#000" stroke-width="1"/><line x1="990.5" y1="86.0" x2="990.5" y2="151.6" stroke="#000" stroke-width="1"/><rect x="988.0" y="150.1" width="5" height="2" fill="#000"/><line x1="996.5" y1="147.1" x2="996.5" y2="175.8" stroke="#000" stroke-width="1"/><rect x="994.5" y="152.3" width="4" height="18.7" fill="#d40000" stroke="#000" stroke-width="1"/><line x1="1001.5" y1="163.1" x2="1001.5" y2="195.7" stroke="#000" stroke-width="1"/><rect x="999.5" y="172.0" width="4" height="11.0" fill="#d40000" stroke="#000" stroke-width="1"/><line x1="1007.5" y1="175.1" x2="1007.5" y2="206.2" stroke="#000" stroke-width="1"/><rect x="1005.5" y="183.8" width="4" height="20.9" fill="#d40000" stroke="#000" stroke-width="1"/><line x1="1012.5" y1="201.0" x2="1012.5" y2="226.6" stroke="#000" stroke-width="1"/><rect x="1010.5" y="206.1" width="4" height="14.8" fill="#d40000" stroke="#000" stroke-width="1"/><line x1="1018.5" y1="197.2" x2="1018.5" y2="233.8" stroke="#000" stroke-width="1"/><rect x="1016.5" y="221.9" width="4" height="9.1" fill="#d40000" stroke="#000" stroke-width="1"/><line x1="1023.5" y1="224.3" x2="1023.5" y2="248.1" stroke="#000" stroke-width="1"/><rect x="1021.5" y="231.5" width="4" height="16.1" fill="#d40000" stroke="#000" stroke-width="1"/><line x1="1029.5" y1="228.1" x2="1029.5" y2="251.9" stroke="#000" stroke-width="1"/><rect x="1027.5" y="235.3" width="4" height="12.3" fill="#6aa84f" stroke="#000" stroke-width="1"/><line x1="1034.5" y1="234.2" x2="1034.5" y2="256.7" stroke="#000" stroke-width="1"/><rect x="1032.5" y="238.1" width="4" height="12.7" fill="#d40000" stroke="#000" stroke-width="1"/><line x1="1039.5" y1="228.1" x2="1039.5" y2="258.6" stroke="#000" stroke-width="1"/><rect x="1037.5" y="242.9" width="4" height="9.9" fill="#6aa84f" stroke="#000" stroke-width="1"/><line x1="1045.5" y1="221.0" x2="1045.5" y2="253.4" stroke="#000" stroke-width="1"/><rect x="1043.5" y="235.5" width="4" height="2.0" fill="#6aa84f" stroke="#000" stroke-width="1"/><line x1="1050.5" y1="221.4" x2="1050.5" y2="265.8" stroke="#000" stroke-width="1"/><rect x="1048.5" y="225.2" width="4" height="23.4" fill="#d40000" stroke="#000" stroke-width="1"/><line x1="1056.5" y1="247.1" x2="1056.5" y2="272.9" stroke="#000" stroke-width="1"/><rect x="1054.5" y="250.1" width="4" height="14.6" fill="#d40000" stroke="#000" stroke-width="1"/><line x1="1061.5" y1="235.3" x2="1061.5" y2="266.8" stroke="#000" stroke-width="1"/><rect x="1059.5" y="239.5" width="4" height="25.3" fill="#6aa84f" stroke="#000" stroke-width="1"/><line x1="1067.5" y1="235.3" x2="1067.5" y2="258.6" stroke="#000" stroke-width="1"/><rect x="1065.5" y="239.5" width="4" height="16.3" fill="#d40000" stroke="#000" stroke-width="1"/><line x1="1072.5" y1="247.1" x2="1072.5" y2="272.9" stroke="#000" stroke-width="1"/><rect x="1070.5" y="253.9" width="4" height="2.0" fill="#6aa84f" stroke="#000" stroke-width="1"/><line x1="1078.5" y1="205.8" x2="1078.5" y2="256.7" stroke="#000" stroke-width="1"/><rect x="1076.5" y="232.0" width="4" height="21.3" fill="#6aa84f" stroke="#000" stroke-width="1"/><line x1="1083.5" y1="228.1" x2="1083.5" y2="257.6" stroke="#000" stroke-width="1"/><rect x="1081.5" y="232.0" width="4" height="21.3" fill="#d40000" stroke="#000" stroke-width="1"/><line x1="1089.5" y1="248.1" x2="1089.5" y2="273.8" stroke="#000" stroke-width="1"/><rect x="1087.5" y="258.1" width="4" height="6.6" fill="#d40000" stroke="#000" stroke-width="1"/><line x1="1094.5" y1="251.3" x2="1094.5" y2="277.6" stroke="#000" stroke-width="1"/><rect x="1092.5" y="267.1" width="4" height="8.7" fill="#d40000" stroke="#000" stroke-width="1"/><line x1="1100.5" y1="250.2" x2="1100.5" y2="277.3" stroke="#000" stroke-width="1"/><rect x="1098.5" y="261.1" width="4" height="15.8" fill="#6aa84f" stroke="#000" stroke-width="1"/><line x1="1105.5" y1="247.2" x2="1105.5" y2="269.9" stroke="#000" stroke-width="1"/><rect x="1103.5" y="263.9" width="4" height="2.0" fill="#d40000" stroke="#000" stroke-width="1"/><line x1="1111.5" y1="261.4" x2="1111.5" y2="284.9" stroke="#000" stroke-width="1"/><rect x="1109.5" y="267.1" width="4" height="14.1" fill="#d40000" stroke="#000" stroke-width="1"/><line x1="1116.5" y1="272.1" x2="1116.5" y2="289.8" stroke="#000" stroke-width="1"/><rect x="1114.5" y="282.0" width="4" height="2.0" fill="#d40000" stroke="#000" stroke-width="1"/><line x1="1121.5" y1="272.1" x2="1121.5" y2="292.7" stroke="#000" stroke-width="1"/><rect x="1119.0" y="283.5" width="5" height="2" fill="#000"/><line x1="1127.5" y1="282.6" x2="1127.5" y2="300.0" stroke="#000" stroke-width="1"/><rect x="1125.5" y="283.1" width="4" height="8.8" fill="#d40000" stroke="#000" stroke-width="1"/><line x1="1132.5" y1="271.2" x2="1132.5" y2="303.8" stroke="#000" stroke-width="1"/><rect x="1130.5" y="275.0" width="4" height="16.9" fill="#6aa84f" stroke="#000" stroke-width="1"/><line x1="1138.5" y1="271.0" x2="1138.5" y2="288.7" stroke="#000" stroke-width="1"/><rect x="1136.0" y="280.9" width="5" height="2" fill="#000"/><line x1="1143.5" y1="272.1" x2="1143.5" y2="295.7" stroke="#000" stroke-width="1"/><rect x="1141.5" y="284.1" width="4" height="5.8" fill="#d40000" stroke="#000" stroke-width="1"/><line x1="1149.5" y1="280.4" x2="1149.5" y2="303.8" stroke="#000" stroke-width="1"/><rect x="1147.5" y="286.1" width="4" height="8.7" fill="#6aa84f" stroke="#000" stroke-width="1"/><line x1="1154.5" y1="265.2" x2="1154.5" y2="288.9" stroke="#000" stroke-width="1"/><rect x="1152.0" y="285.4" width="5" height="2" fill="#000"/><line x1="1160.5" y1="285.2" x2="1160.5" y2="312.7" stroke="#000" stroke-width="1"/><rect x="1158.5" y="288.3" width="4" height="14.7" fill="#d40000" stroke="#000" stroke-width="1"/><line x1="1165.5" y1="273.1" x2="1165.5" y2="305.1" stroke="#000" stroke-width="1"/><rect x="1163.5" y="282.2" width="4" height="22.5" fill="#6aa84f" stroke="#000" stroke-width="1"/><line x1="1171.5" y1="279.0" x2="1171.5" y2="302.6" stroke="#000" stroke-width="1"/><rect x="1169.5" y="283.1" width="4" height="17.7" fill="#d40000" stroke="#000" stroke-width="1"/><line x1="1176.5" y1="297.3" x2="1176.5" y2="316.6" stroke="#000" stroke-width="1"/><rect x="1174.5" y="304.3" width="4" height="10.8" fill="#d40000" stroke="#000" stroke-width="1"/><line x1="1182.5" y1="300.3" x2="1182.5" y2="323.8" stroke="#000" stroke-width="1"/><rect x="1180.5" y="316.1" width="4" height="3.6" fill="#d40000" stroke="#000" stroke-width="1"/></g>
<path d="M12.5,461.5 L13.8,461.2 L22.5,459.5 L35.0,457.4 L47.5,455.5 L60.0,454.2 L72.5,453.2 L85.0,452.0 L97.5,451.2 L110.0,450.8 L122.5,450.8 L135.0,450.8 L147.5,449.5 L160.0,447.5 L172.5,446.0 L185.0,444.5 L197.5,442.0 L210.0,439.0 L222.5,436.5 L235.0,434.2 L247.5,431.2 L260.0,427.5 L272.5,423.2 L285.0,418.8 L297.5,414.5 L300.0,413.8 L313.6,410.3 L327.1,407.0 L340.7,404.3 L354.3,402.1 L370.6,398.0 L386.8,392.6 L408.5,385.8 L424.8,380.9 L441.1,375.5 L457.4,368.2 L473.7,362.2 L490.0,356.8 L503.5,353.8 L517.1,349.2 L530.7,345.1 L544.2,340.2 L557.8,335.6 L571.4,330.7 L584.9,327.5 L598.5,323.4 L600.0,323.0 L612.5,319.2 L625.0,315.8 L637.5,312.0 L650.0,308.2 L662.5,304.5 L675.0,300.8 L687.5,297.5 L700.0,294.2 L712.5,290.8 L725.0,288.0 L737.5,285.5 L750.0,282.5 L762.5,280.5 L775.0,278.2 L787.5,276.2 L800.0,274.2 L812.5,273.0 L825.0,272.0 L837.5,271.2 L850.0,270.5 L862.5,269.2 L875.0,267.5 L887.5,266.0 L900.0,264.5 L912.5,262.0 L925.0,259.5 L937.5,256.8 L950.0,254.2 L962.5,252.5 L975.0,250.8 L987.5,247.5 L1000.0,245.0 L1012.5,242.5 L1025.0,241.2 L1037.5,240.0 L1050.0,239.2 L1062.5,238.2 L1075.0,237.5 L1087.5,236.8 L1100.0,236.2 L1112.5,236.0 L1125.0,236.0 L1137.5,236.0 L1150.0,236.2 L1162.5,236.5 L1175.0,236.8 L1182.5,237.0" fill="none" stroke="#bf9000" stroke-width="2.6" stroke-linejoin="round" stroke-linecap="butt"/>
<line x1="191.3" y1="309" x2="1188" y2="309" stroke="#ff0000" stroke-width="2"/>
<line x1="350" y1="332.8" x2="1188" y2="332.8" stroke="#ff0000" stroke-width="2"/>
<line x1="1104.3" y1="294" x2="1188" y2="294" stroke="#ff0000" stroke-width="2"/>
<line x1="1077" y1="336" x2="1193" y2="336" stroke="#741b47" stroke-width="2"/>
<line x1="13" y1="651.5" x2="1314" y2="651.5" stroke="#ff0000" stroke-width="1" stroke-dasharray="1 2"/>
<path d="M12.0,651.5V630.4M17.0,651.5V627.3M23.0,651.5V623.3M28.0,651.5V613.1M34.0,651.5V607.0M39.0,651.5V602.5M45.0,651.5V597.8M50.0,651.5V597.8M56.0,651.5V598.8M61.0,651.5V601.9M66.0,651.5V608.0M72.0,651.5V616.2M77.0,651.5V623.3M83.0,651.5V629.4M88.0,651.5V636.5M94.0,651.5V643.6M99.0,651.5V648.7M105.0,651.5V651.2M110.0,651.5V653.8M116.0,651.5V658.9M121.0,651.5V665.0M127.0,651.5V673.1M132.0,651.5V678.2M138.0,651.5V682.3M143.0,651.5V679.2M148.0,651.5V667.0M154.0,651.5V657.9M159.0,651.5V645.7M165.0,651.5V637.5M170.0,651.5V633.0M176.0,651.5V631.8M181.0,651.5V631.4M187.0,651.5V627.8M192.0,651.5V625.3M198.0,651.5V622.9M203.0,651.5V616.2M209.0,651.5V606.0M214.0,651.5V597.8M220.0,651.5V594.8M225.0,651.5V593.8M230.0,651.5V596.8M236.0,651.5V597.8M241.0,651.5V596.8M247.0,651.5V595.2M252.0,651.5V593.8M258.0,651.5V592.3M263.0,651.5V586.6M269.0,651.5V581.5M274.0,651.5V577.5M280.0,651.5V570.4M285.0,651.5V567.3M291.0,651.5V566.7M296.0,651.5V569.3M302.0,651.5V578.5M307.0,651.5V590.7M312.0,651.5V603.9M318.0,651.5V614.1M323.0,651.5V623.3M329.0,651.5V631.0M334.0,651.5V639.6M340.0,651.5V647.7M345.0,651.5V653.8M351.0,651.5V660.5M356.0,651.5V663.6M362.0,651.5V664.4M367.0,651.5V665.0M373.0,651.5V657.9M378.0,651.5V649.7M384.0,651.5V639.6M389.0,651.5V631.4M394.0,651.5V622.3M400.0,651.5V617.2M405.0,651.5V612.1M411.0,651.5V613.1M416.0,651.5V614.7M422.0,651.5V615.1M427.0,651.5V617.2M433.0,651.5V618.8M438.0,651.5V619.2M444.0,651.5V616.2M449.0,651.5V608.0M455.0,651.5V597.8M460.0,651.5V588.7M466.0,651.5V587.7M471.0,651.5V597.8M476.0,651.5V603.9M482.0,651.5V608.6M487.0,651.5V611.1M493.0,651.5V620.2M498.0,651.5V634.5M504.0,651.5V647.7M509.0,651.5V656.9M515.0,651.5V655.8M520.0,651.5V649.7M526.0,651.5V648.3M531.0,651.5V647.7M537.0,651.5V643.6M542.0,651.5V640.6M547.0,651.5V638.5M553.0,651.5V635.1M558.0,651.5V629.8M564.0,651.5V629.0M569.0,651.5V631.0M575.0,651.5V632.4M580.0,651.5V637.5M586.0,651.5V644.6M591.0,651.5V649.7M597.0,651.5V653.4M602.0,651.5V654.8M608.0,651.5V654.8M613.0,651.5V656.9M619.0,651.5V659.3M624.0,651.5V660.3M629.0,651.5V658.9M635.0,651.5V656.9M640.0,651.5V651.8M646.0,651.5V648.3M651.0,651.5V647.7M657.0,651.5V644.2M662.0,651.5V641.2M668.0,651.5V637.1M673.0,651.5V633.0M679.0,651.5V633.9M684.0,651.5V637.9M690.0,651.5V638.5M695.0,651.5V638.5M701.0,651.5V641.2M706.0,651.5V644.0M711.0,651.5V642.6M717.0,651.5V644.0M722.0,651.5V647.7M728.0,651.5V651.8M733.0,651.5V657.9M739.0,651.5V663.0M744.0,651.5V663.6M750.0,651.5V661.9M755.0,651.5V663.0M761.0,651.5V667.0M766.0,651.5V669.7M772.0,651.5V670.5M777.0,651.5V673.1M783.0,651.5V674.2M788.0,651.5V672.5M793.0,651.5V671.7M799.0,651.5V669.1M804.0,651.5V670.5M810.0,651.5V673.1M815.0,651.5V677.8M821.0,651.5V680.3M826.0,651.5V681.3M832.0,651.5V685.4M837.0,651.5V690.9M843.0,651.5V695.5M848.0,651.5V695.9M854.0,651.5V694.5M859.0,651.5V691.1M865.0,651.5V688.0M870.0,651.5V686.0M875.0,651.5V677.8M881.0,651.5V670.1M886.0,651.5V663.6M892.0,651.5V657.5M897.0,651.5V655.4M903.0,651.5V650.8M908.0,651.5V641.6M914.0,651.5V633.5M919.0,651.5V625.3M925.0,651.5V617.8M930.0,651.5V617.2M936.0,651.5V616.2M941.0,651.5V615.5M947.0,651.5V619.2M952.0,651.5V622.3M957.0,651.5V625.3M963.0,651.5V630.4M968.0,651.5V635.5M974.0,651.5V640.6M979.0,651.5V644.2M985.0,651.5V642.6M990.0,651.5V632.0M996.0,651.5V630.0M1001.0,651.5V631.0M1007.0,651.5V634.5M1012.0,651.5V640.6M1018.0,651.5V645.3M1023.0,651.5V653.8M1029.0,651.5V661.5M1034.0,651.5V670.1M1039.0,651.5V676.8M1045.0,651.5V680.3M1050.0,651.5V683.9M1056.0,651.5V688.4M1061.0,651.5V689.4M1067.0,651.5V689.0M1072.0,651.5V690.0M1078.0,651.5V686.0M1083.0,651.5V683.3M1089.0,651.5V683.9M1094.0,651.5V684.3M1100.0,651.5V683.9M1105.0,651.5V683.3M1111.0,651.5V684.3M1116.0,651.5V685.4M1121.0,651.5V687.4M1127.0,651.5V689.4M1132.0,651.5V690.0M1138.0,651.5V688.4M1143.0,651.5V688.0M1149.0,651.5V687.4M1154.0,651.5V684.3M1160.0,651.5V684.9M1165.0,651.5V683.3M1171.0,651.5V681.3M1176.0,651.5V681.3M1182.0,651.5V680.9" stroke="#ff0000" stroke-opacity="0.7" stroke-width="2" fill="none"/>
<path d="M12.5,630.4 L17.5,627.3 L23.5,623.3 L28.5,613.1 L34.5,607.0 L39.5,602.5 L45.5,597.8 L50.5,597.8 L56.5,598.8 L61.5,601.9 L66.5,608.0 L72.5,616.2 L77.5,623.3 L83.5,629.4 L88.5,636.5 L94.5,643.6 L99.5,648.7 L105.5,651.2 L110.5,653.8 L116.5,658.9 L121.5,665.0 L127.5,673.1 L132.5,678.2 L138.5,682.3 L143.5,679.2 L148.5,667.0 L154.5,657.9 L159.5,645.7 L165.5,637.5 L170.5,633.0 L176.5,631.8 L181.5,631.4 L187.5,627.8 L192.5,625.3 L198.5,622.9 L203.5,616.2 L209.5,606.0 L214.5,597.8 L220.5,594.8 L225.5,593.8 L230.5,596.8 L236.5,597.8 L241.5,596.8 L247.5,595.2 L252.5,593.8 L258.5,592.3 L263.5,586.6 L269.5,581.5 L274.5,577.5 L280.5,570.4 L285.5,567.3 L291.5,566.7 L296.5,569.3 L302.5,578.5 L307.5,590.7 L312.5,603.9 L318.5,614.1 L323.5,623.3 L329.5,631.0 L334.5,639.6 L340.5,647.7 L345.5,653.8 L351.5,660.5 L356.5,663.6 L362.5,664.4 L367.5,665.0 L373.5,657.9 L378.5,649.7 L384.5,639.6 L389.5,631.4 L394.5,622.3 L400.5,617.2 L405.5,612.1 L411.5,613.1 L416.5,614.7 L422.5,615.1 L427.5,617.2 L433.5,618.8 L438.5,619.2 L444.5,616.2 L449.5,608.0 L455.5,597.8 L460.5,588.7 L466.5,587.7 L471.5,597.8 L476.5,603.9 L482.5,608.6 L487.5,611.1 L493.5,620.2 L498.5,634.5 L504.5,647.7 L509.5,656.9 L515.5,655.8 L520.5,649.7 L526.5,648.3 L531.5,647.7 L537.5,643.6 L542.5,640.6 L547.5,638.5 L553.5,635.1 L558.5,629.8 L564.5,629.0 L569.5,631.0 L575.5,632.4 L580.5,637.5 L586.5,644.6 L591.5,649.7 L597.5,653.4 L602.5,654.8 L608.5,654.8 L613.5,656.9 L619.5,659.3 L624.5,660.3 L629.5,658.9 L635.5,656.9 L640.5,651.8 L646.5,648.3 L651.5,647.7 L657.5,644.2 L662.5,641.2 L668.5,637.1 L673.5,633.0 L679.5,633.9 L684.5,637.9 L690.5,638.5 L695.5,638.5 L701.5,641.2 L706.5,644.0 L711.5,642.6 L717.5,644.0 L722.5,647.7 L728.5,651.8 L733.5,657.9 L739.5,663.0 L744.5,663.6 L750.5,661.9 L755.5,663.0 L761.5,667.0 L766.5,669.7 L772.5,670.5 L777.5,673.1 L783.5,674.2 L788.5,672.5 L793.5,671.7 L799.5,669.1 L804.5,670.5 L810.5,673.1 L815.5,677.8 L821.5,680.3 L826.5,681.3 L832.5,685.4 L837.5,690.9 L843.5,695.5 L848.5,695.9 L854.5,694.5 L859.5,691.1 L865.5,688.0 L870.5,686.0 L875.5,677.8 L881.5,670.1 L886.5,663.6 L892.5,657.5 L897.5,655.4 L903.5,650.8 L908.5,641.6 L914.5,633.5 L919.5,625.3 L925.5,617.8 L930.5,617.2 L936.5,616.2 L941.5,615.5 L947.5,619.2 L952.5,622.3 L957.5,625.3 L963.5,630.4 L968.5,635.5 L974.5,640.6 L979.5,644.2 L985.5,642.6 L990.5,632.0 L996.5,630.0 L1001.5,631.0 L1007.5,634.5 L1012.5,640.6 L1018.5,645.3 L1023.5,653.8 L1029.5,661.5 L1034.5,670.1 L1039.5,676.8 L1045.5,680.3 L1050.5,683.9 L1056.5,688.4 L1061.5,689.4 L1067.5,689.0 L1072.5,690.0 L1078.5,686.0 L1083.5,683.3 L1089.5,683.9 L1094.5,684.3 L1100.5,683.9 L1105.5,683.3 L1111.5,684.3 L1116.5,685.4 L1121.5,687.4 L1127.5,689.4 L1132.5,690.0 L1138.5,688.4 L1143.5,688.0 L1149.5,687.4 L1154.5,684.3 L1160.5,684.9 L1165.5,683.3 L1171.5,681.3 L1176.5,681.3 L1182.5,680.9" fill="none" stroke="#ff0000" stroke-opacity="0.7" stroke-width="2.4" stroke-linejoin="round"/>
<path d="M12.5,634.5 L17.5,632.4 L23.5,629.4 L28.5,623.3 L34.5,617.2 L39.5,610.0 L45.5,603.9 L50.5,600.9 L56.5,599.5 L61.5,599.9 L66.5,602.5 L72.5,608.0 L77.5,613.1 L83.5,620.2 L88.5,628.4 L94.5,634.5 L99.5,641.6 L105.5,646.1 L110.5,649.1 L116.5,653.8 L121.5,659.9 L127.5,667.0 L132.5,672.1 L138.5,676.2 L143.5,677.8 L148.5,674.6 L154.5,669.1 L159.5,658.9 L165.5,649.7 L170.5,641.6 L176.5,636.5 L181.5,633.9 L187.5,630.4 L192.5,628.4 L198.5,626.3 L203.5,622.3 L209.5,616.2 L214.5,608.0 L220.5,601.9 L225.5,598.4 L230.5,596.4 L236.5,596.8 L241.5,597.2 L247.5,596.4 L252.5,595.2 L258.5,593.8 L263.5,590.7 L269.5,586.6 L274.5,581.5 L280.5,576.5 L285.5,572.0 L291.5,569.3 L296.5,568.7 L302.5,571.4 L307.5,578.5 L312.5,586.6 L318.5,597.8 L323.5,609.0 L329.5,618.2 L334.5,627.3 L340.5,636.5 L345.5,643.6 L351.5,651.4 L356.5,656.9 L362.5,660.9 L367.5,663.0 L373.5,661.9 L378.5,657.9 L384.5,650.8 L389.5,642.6 L394.5,633.5 L400.5,626.3 L405.5,620.2 L411.5,616.2 L416.5,615.1 L422.5,614.7 L427.5,615.5 L433.5,616.8 L438.5,618.2 L444.5,617.6 L449.5,614.1 L455.5,607.0 L460.5,599.9 L466.5,593.8 L471.5,593.2 L476.5,595.8 L482.5,600.5 L487.5,605.0 L493.5,612.1 L498.5,622.3 L504.5,632.4 L509.5,643.6 L515.5,650.8 L520.5,651.8 L526.5,651.4 L531.5,649.7 L537.5,646.3 L542.5,643.6 L547.5,641.2 L553.5,637.9 L558.5,634.5 L564.5,632.4 L569.5,631.4 L575.5,631.4 L580.5,633.5 L586.5,638.5 L591.5,643.6 L597.5,647.7 L602.5,651.4 L608.5,653.4 L613.5,655.2 L619.5,656.9 L624.5,658.3 L629.5,658.9 L635.5,658.5 L640.5,655.8 L646.5,652.8 L651.5,650.3 L657.5,647.7 L662.5,644.6 L668.5,640.6 L673.5,637.5 L679.5,636.1 L684.5,636.5 L690.5,637.1 L695.5,637.9 L701.5,639.6 L706.5,641.2 L711.5,642.2 L717.5,642.6 L722.5,644.6 L728.5,647.7 L733.5,651.8 L739.5,656.9 L744.5,660.3 L750.5,661.5 L755.5,662.4 L761.5,665.0 L766.5,667.0 L772.5,669.1 L777.5,671.5 L783.5,672.7 L788.5,672.5 L793.5,672.1 L799.5,671.1 L804.5,671.1 L810.5,672.7 L815.5,675.6 L821.5,677.8 L826.5,679.9 L832.5,683.3 L837.5,687.4 L843.5,691.5 L848.5,694.1 L854.5,694.5 L859.5,693.5 L865.5,691.5 L870.5,689.4 L875.5,685.4 L881.5,680.3 L886.5,673.1 L892.5,666.0 L897.5,661.5 L903.5,656.9 L908.5,650.8 L914.5,642.6 L919.5,633.5 L925.5,626.9 L930.5,622.3 L936.5,618.8 L941.5,617.2 L947.5,617.2 L952.5,619.2 L957.5,621.2 L963.5,625.3 L968.5,629.8 L974.5,634.5 L979.5,638.9 L985.5,640.6 L990.5,637.5 L996.5,634.5 L1001.5,632.8 L1007.5,632.4 L1012.5,634.5 L1018.5,638.5 L1023.5,644.6 L1029.5,650.8 L1034.5,659.9 L1039.5,668.1 L1045.5,674.2 L1050.5,679.2 L1056.5,683.9 L1061.5,686.4 L1067.5,688.0 L1072.5,689.0 L1078.5,687.4 L1083.5,685.4 L1089.5,684.3 L1094.5,684.3 L1100.5,683.9 L1105.5,683.3 L1111.5,683.9 L1116.5,684.7 L1121.5,686.0 L1127.5,687.4 L1132.5,688.8 L1138.5,688.4 L1143.5,688.0 L1149.5,687.8 L1154.5,686.4 L1160.5,685.4 L1165.5,683.9 L1171.5,682.3 L1176.5,681.7 L1182.5,681.3" fill="none" stroke="#0000ff" stroke-opacity="0.7" stroke-width="2.8" stroke-linejoin="round"/>
</g>
<rect x="1250.2" y="48.4" width="6.7" height="36" rx="2" fill="#ff0000"/><path d="M1238.2,67.1 L1253.55,82.9 L1268.8,67.1" fill="none" stroke="#ff0000" stroke-width="6.6" stroke-linecap="round" stroke-linejoin="round"/>
<line x1="1314.5" y1="35" x2="1314.5" y2="764" stroke="#50535e" stroke-width="1"/>
<line x1="14" y1="710.5" x2="1460" y2="710.5" stroke="#50535e" stroke-width="1"/>
<line x1="14" y1="550.5" x2="1460" y2="550.5" stroke="#e0e3eb" stroke-width="1"/>
<path d="M1315,220 H1440 a2,2 0 0 1 2,2 V253 a2,2 0 0 1 -2,2 H1315 Z" fill="#bf9000"/>
<path d="M1315,268 H1440 a2,2 0 0 1 2,2 V301 a2,2 0 0 1 -2,2 H1315 Z" fill="#3b40a4"/>
<path d="M1315,303 H1440 a2,2 0 0 1 2,2 V336 a2,2 0 0 1 -2,2 H1315 Z" fill="#cc0000"/>
<g fill="#1a1a1a"><path d="M15.5,792.7 H30.7 V811 H22.9 V799.8 H15.5 Z"/><circle cx="36.4" cy="796.1" r="3.35"/><path d="M43.2,792.7 H52.9 L45.3,811 H37 Z"/></g>
</svg>
<div class="t" style="left:13.00px;top:12.90px;font-size:14.3px;letter-spacing:0.298px;color:#131722;">Continuum_Economics created with TradingView.com, Dec 12, 2025 12:29 UTC</div>
<div class="t b" style="left:658.30px;top:48.92px;font-size:19px;letter-spacing:0.051px;color:#000;">USD/ZAR Weekly Chart</div>
<div class="t b" style="left:1088.00px;top:50.92px;font-size:19px;letter-spacing:0.603px;color:#000;">1-2 day view</div>
<div class="t b" style="left:48.30px;top:559.92px;font-size:19px;letter-spacing:0.119px;color:#000;">Tension Indicator</div>
<div class="t b" style="left:254.00px;top:343.19px;font-size:17.5px;letter-spacing:1.224px;color:#1c4587;">21 weighted MA</div>
<div class="t b" style="left:239.46px;top:435.19px;font-size:17.5px;letter-spacing:1.335px;color:#b45f06;">233 weighted MA</div>
<div class="t b" style="left:845.30px;top:440.92px;font-size:19px;letter-spacing:0.794px;color:#8e1150;">16.6500 - 50% ret of 2021-2023 rally</div>
<div class="t b" style="left:845.30px;top:460.92px;font-size:19px;letter-spacing:0.836px;color:#8e1150;">15.8800 - 61.8% ret of 2021-2023 rally</div>
<div class="t b" style="left:1002.82px;top:281.26px;font-size:24.5px;letter-spacing:0.963px;color:#ff0000;">17.2000</div>
<div class="t b" style="left:1185.82px;top:295.26px;font-size:24.5px;letter-spacing:1.051px;color:#ff0000;">17.0000</div>
<div class="t b" style="left:700.82px;top:312.26px;font-size:24.5px;letter-spacing:1.051px;color:#ff0000;">16.6900</div>
<div class="t b" style="left:1193.18px;top:323.26px;font-size:24.5px;letter-spacing:1.019px;color:#741b47;">16.6500</div>
<div class="t" style="left:1331.02px;top:526.26px;font-size:24.5px;letter-spacing:-0.013px;color:#131722;">14.00000</div>
<div class="t" style="left:1331.02px;top:450.26px;font-size:24.5px;letter-spacing:-0.013px;color:#131722;">15.00000</div>
<div class="t" style="left:1331.02px;top:374.26px;font-size:24.5px;letter-spacing:-0.013px;color:#131722;">16.00000</div>
<div class="t" style="left:1331.02px;top:145.26px;font-size:24.5px;letter-spacing:-0.013px;color:#131722;">19.00000</div>
<div class="t" style="left:1331.82px;top:68.26px;font-size:24.5px;letter-spacing:-0.142px;color:#131722;">20.00000</div>
<div class="t" style="left:1331.02px;top:226.26px;font-size:24.5px;letter-spacing:-0.074px;color:#fff;">17.94417</div>
<div class="t" style="left:1331.02px;top:274.26px;font-size:24.5px;letter-spacing:-0.074px;color:#fff;">17.24872</div>
<div class="t" style="left:1331.02px;top:309.26px;font-size:24.5px;letter-spacing:-0.074px;color:#fff;">16.85591</div>
<div class="t b" style="left:32.38px;top:723.26px;font-size:24.5px;letter-spacing:0.961px;color:#131722;">2022</div>
<div class="t" style="left:187.85px;top:722.85px;font-size:23.8px;letter-spacing:0.783px;color:#131722;">Jul</div>
<div class="t b" style="left:316.44px;top:723.26px;font-size:24.5px;letter-spacing:1.008px;color:#131722;">2023</div>
<div class="t" style="left:472.05px;top:722.85px;font-size:23.8px;letter-spacing:0.783px;color:#131722;">Jul</div>
<div class="t b" style="left:601.92px;top:723.26px;font-size:24.5px;letter-spacing:0.674px;color:#131722;">2024</div>
<div class="t" style="left:757.05px;top:722.85px;font-size:23.8px;letter-spacing:0.783px;color:#131722;">Jul</div>
<div class="t b" style="left:890.76px;top:723.26px;font-size:24.5px;letter-spacing:0.708px;color:#131722;">2025</div>
<div class="t" style="left:1045.47px;top:722.85px;font-size:23.8px;letter-spacing:1.098px;color:#131722;">Jul</div>
<div class="t b" style="left:1174.44px;top:723.26px;font-size:24.5px;letter-spacing:1.008px;color:#131722;">2026</div>
<div class="t b" style="left:62.00px;top:789.84px;font-size:25px;letter-spacing:0.384px;color:#1a1a1a;-webkit-text-stroke:0.45px #1a1a1a;">TradingView</div>
<div style="position:absolute;left:1316px;top:35px;width:144px;height:41px;background:#fff"></div><div style="position:absolute;left:1319px;top:39px;width:137px;height:31px;background:#fff;border:1px solid #efefef;border-radius:5px;box-sizing:content-box"></div>
<div class="t" style="left:1330.60px;top:48.15px;font-size:14px;letter-spacing:-1.295px;color:#131722;">ZAR</div>
</body></html>
